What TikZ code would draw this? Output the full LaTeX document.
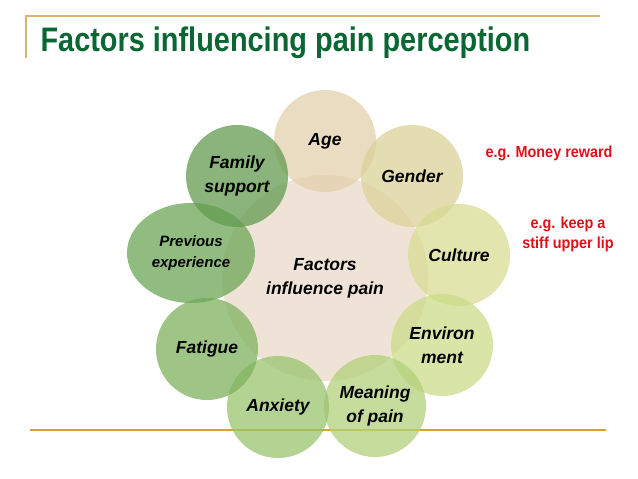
\documentclass[tikz,border=0pt]{standalone}
\usepackage{fontspec}
\setmainfont{Liberation Sans}
\newfontfamily\titlefont[FakeStretch=0.85]{Liberation Sans}
\newfontfamily\notefont[FakeStretch=0.9]{Liberation Sans}
\usetikzlibrary{shapes.geometric}
\definecolor{titlegreen}{RGB}{10,102,51}
\definecolor{ruletan}{RGB}{214,184,116}
\definecolor{rulegold}{RGB}{212,165,42}
\definecolor{notered}{RGB}{224,16,26}
\definecolor{hubfill}{HTML}{EADACA}
\definecolor{agefill}{HTML}{E2D0AB}
\definecolor{genderfill}{HTML}{DBD298}
\definecolor{culturefill}{HTML}{D8DC93}
\definecolor{envfill}{HTML}{CBDC88}
\definecolor{meaningfill}{HTML}{B2D07B}
\definecolor{anxietyfill}{HTML}{9AC46E}
\definecolor{fatiguefill}{HTML}{7FB25E}
\definecolor{previousfill}{HTML}{6CA656}
\definecolor{familyfill}{HTML}{639B50}

\begin{document}
\begin{tikzpicture}[x=1pt, y=-1pt,
    factor/.style={circle, minimum size=102pt, inner sep=0pt,
                   fill opacity=0.75, text opacity=1, align=center,
                   font=\fontsize{17.5}{24}\selectfont\bfseries\itshape},
    note/.style={text=notered, align=center,
                 font=\notefont\fontsize{16}{20}\selectfont\bfseries}]
  \useasboundingbox (0,0) rectangle (638,479);

  % slide rules
  \draw[ruletan, line width=1.5pt] (26,58) -- (26,16) -- (600,16);
  \draw[rulegold, line width=1.5pt] (30,430) -- (606,430);

  \node[anchor=base west, text=titlegreen,
        font=\titlefont\fontsize{34}{40}\selectfont\bfseries]
        (title) at (37,52) {Factors influencing pain perception};

  % hub and ring of factors
  \node[factor, fill=hubfill, minimum size=206pt] (hub) at (325,278)
        {Factors\\influence pain};
  \node[factor, fill=agefill]      (age)      at (325,141) {Age};
  \node[factor, fill=genderfill]   (gender)   at (412,176) {Gender};
  \node[factor, fill=culturefill]  (culture)  at (459,255) {Culture};
  \node[factor, fill=envfill]      (env)      at (442,345) {Environ\\ment};
  \node[factor, fill=meaningfill]  (meaning)  at (375,406) {Meaning\\of pain};
  \node[factor, fill=anxietyfill]  (anxiety)  at (278,407) {Anxiety};
  \node[factor, fill=fatiguefill]  (fatigue)  at (207,349) {Fatigue};
  \node[factor, ellipse, fill=previousfill, minimum width=128pt,
        minimum height=100pt, font=\fontsize{15}{21}\selectfont\bfseries\itshape]
        (previous) at (191,253) {Previous\\experience};
  \node[factor, fill=familyfill]   (family)   at (237,176) {Family\\support};

  % examples
  \node[note] (money) at (549,153) {e.g. Money reward};
  \node[note] (stiff) at (568,234) {e.g. keep a\\stiff upper lip};
\end{tikzpicture}
\end{document}
